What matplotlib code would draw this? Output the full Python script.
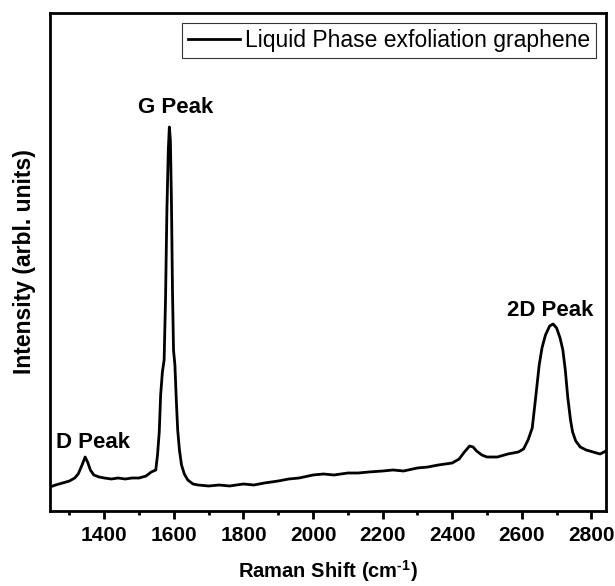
import numpy as np
import matplotlib.pyplot as plt

plt.rcParams['font.family'] = ['Liberation Sans', 'DejaVu Sans']
plt.rcParams['mathtext.fontset'] = 'custom'
plt.rcParams['mathtext.rm'] = 'Liberation Sans:bold'
plt.rcParams['mathtext.bf'] = 'Liberation Sans:bold'

# Raman shift (cm^-1) and intensity (arb. units)
shift = [1244, 1260, 1280, 1300, 1315, 1325, 1335, 1345, 1352, 1360, 1370,
         1385, 1400, 1420, 1440, 1460, 1480, 1500, 1520, 1535, 1548, 1553,
         1558, 1562, 1567, 1572, 1576, 1580, 1584, 1587, 1590, 1593, 1596,
         1599, 1603, 1607, 1611, 1616, 1622, 1630, 1640, 1655, 1670, 1700,
         1730, 1760, 1800, 1830, 1860, 1900, 1930, 1960, 2000, 2030, 2060,
         2100, 2130, 2160, 2200, 2230, 2260, 2300, 2330, 2360, 2400, 2420,
         2435, 2450, 2460, 2470, 2485, 2500, 2530, 2560, 2590, 2605, 2618,
         2630, 2640, 2650, 2658, 2668, 2680, 2690, 2700, 2710, 2718, 2725,
         2732, 2740, 2746, 2755, 2768, 2785, 2805, 2825, 2842]
intensity = [24, 26, 28, 30, 33, 37, 45, 54, 49, 41, 36,
             34, 33, 32, 33, 32, 33, 33, 35, 39, 41, 56,
             79, 116, 139, 151, 211, 301, 361, 384, 371, 311, 221,
             161, 146, 111, 81, 61, 46, 37, 31, 27, 26, 25,
             26, 25, 27, 26, 28, 30, 32, 33, 36, 37, 36,
             38, 38, 39, 40, 41, 40, 43, 44, 46, 48, 52,
             59, 65, 64, 60, 56, 54, 54, 57, 59, 62, 71,
             83, 114, 146, 163, 176, 185, 187, 183, 173, 161, 141,
             114, 91, 79, 70, 64, 61, 59, 57, 60]

peak_names = ['D Peak', 'G Peak', '2D Peak']
peak_x = [1369, 1605, 2683]
peak_y = [69, 404, 201]

fig = plt.figure(figsize=(6.15, 5.86), dpi=100)
ax = fig.add_axes([50 / 615, 75 / 586, 556 / 615, 498 / 586])

ax.plot(shift, intensity, color='black', lw=2, label='Liquid Phase exfoliation graphene')

ax.set_xlim(1244, 2842)
ax.set_ylim(0, 498)
ax.set_xticks(np.arange(1400, 2801, 200))
ax.set_xticks(np.arange(1300, 2801, 200), minor=True)
ax.set_yticks([])
ax.tick_params(axis='x', which='major', direction='out', length=6, width=2,
               labelsize=15, pad=5)
ax.tick_params(axis='x', which='minor', direction='out', length=3, width=2)
for lbl in ax.get_xticklabels():
    lbl.set_fontweight('bold')
for s in ax.spines.values():
    s.set_linewidth(2)

ax.set_xlabel('Raman Shift (cm$^{\\text{-1}}$)', fontsize=14.5, fontweight='bold', labelpad=9)
ax.set_ylabel('Intensity (arbl. units)', fontsize=16.5, fontweight='bold', labelpad=10)

for name, px, py in zip(peak_names, peak_x, peak_y):
    ax.text(px, py, name, ha='center', va='center', fontsize=16, fontweight='bold')

leg = ax.legend(loc='upper right', fontsize=16.5, frameon=True, fancybox=False,
                edgecolor='black', handlelength=2.3, handletextpad=0.2,
                borderpad=0.25, borderaxespad=0.45)
leg.get_frame().set_linewidth(0.8)

fig.savefig('out.png', dpi=100)
